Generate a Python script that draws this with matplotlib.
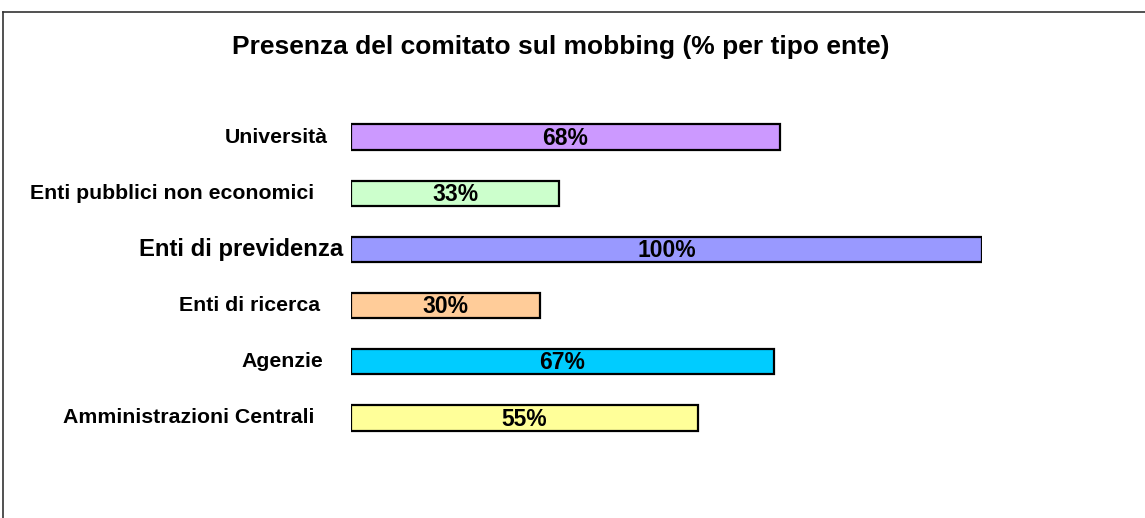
import matplotlib
matplotlib.use("Agg")
import matplotlib.pyplot as plt
from matplotlib.lines import Line2D

# categories, bottom to top
categories = ["Amministrazioni Centrali", "Agenzie", "Enti di ricerca",
              "Enti di previdenza", "Enti pubblici non economici", "Università"]
values = [55, 67, 30, 100, 33, 68]
value_labels = ["55%", "67%", "30%", "100%", "33%", "68%"]
colors = ["#FFFF99", "#00CCFF", "#FFCC99", "#9999FF", "#CCFFCC", "#CC99FF"]
title = "Presenza del comitato sul mobbing (% per tipo ente)"

# gap (px) between each category label and the start of its bar
label_gaps = [37, 28, 31, 8, 37, 23]

plt.rcParams['font.family'] = ['Liberation Sans', 'DejaVu Sans']

fig = plt.figure(figsize=(11.45, 5.18), dpi=100)
ax = fig.add_axes([351 / 1145, 58 / 518, 631 / 1145, 360 / 518])

ys = range(len(categories))
ax.barh(ys, values, height=0.45, color=colors, edgecolor="black", linewidth=1.6)
ax.set_xlim(0, 100)
ax.set_ylim(-0.75, 5.66)

for y, v, lab in zip(ys, values, value_labels):
    ax.text(v / 2, y - 0.02, lab, ha="center", va="center", fontsize=16.5,
            fontweight="bold")

# category labels, the "previdenza" one is bigger and sits closer to its bar
px = 100 / 631
for y, cat, gap in zip(ys, categories, label_gaps):
    big = cat == "Enti di previdenza"
    ax.text(-gap * px, y, cat, ha="right", va="center",
            fontsize=17.2 if big else 15.3, fontweight="bold")

ax.set_xticks([])
ax.set_yticks([])
for s in ax.spines.values():
    s.set_visible(False)

fig.text(561 / 1145, 1 - 47 / 518, title, ha="center", va="center",
         fontsize=19, fontweight="bold")

# frame around the chart area (left and top)
fig.add_artist(Line2D([3 / 1145, 3 / 1145], [0, 1 - 12 / 518], color="#333333", lw=1.2))
fig.add_artist(Line2D([3 / 1145, 1], [1 - 12 / 518, 1 - 12 / 518], color="#333333", lw=1.2))

fig.savefig("out.png", dpi=100)
